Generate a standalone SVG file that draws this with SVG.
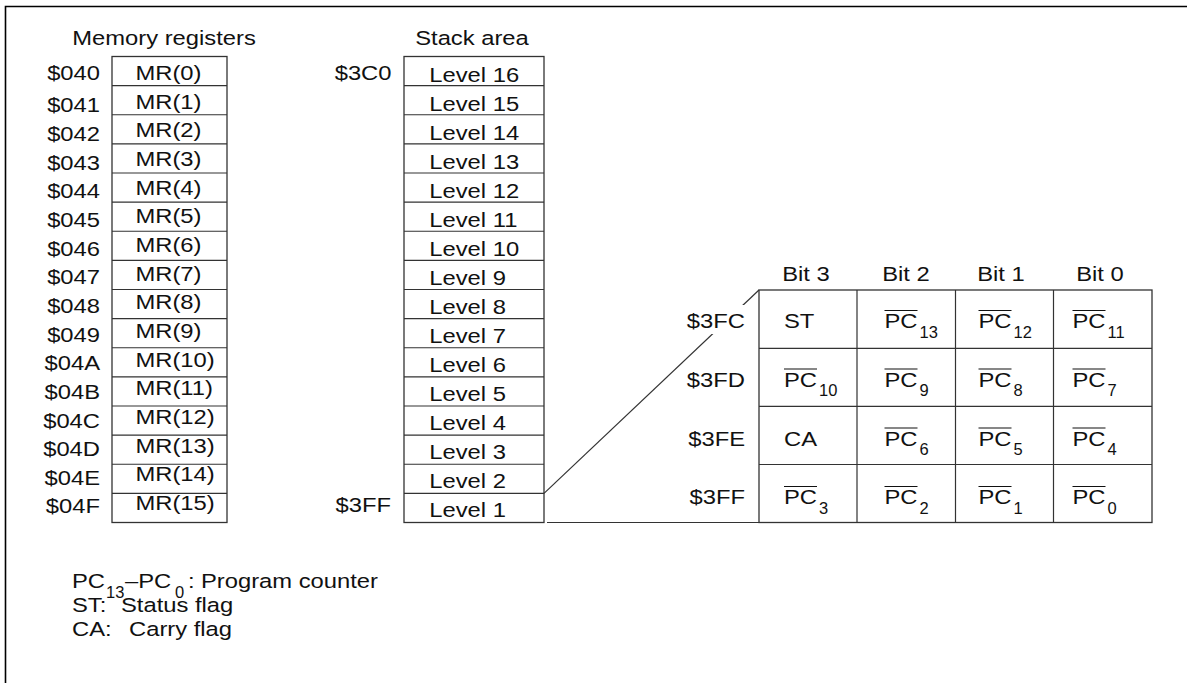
<svg xmlns="http://www.w3.org/2000/svg" width="1187" height="683" viewBox="0 0 1187 683">
<style>
text{font-family:"Liberation Sans",Arial,sans-serif;font-size:20.5px;fill:#111}
.m{text-anchor:middle}.e{text-anchor:end}
.sub{font-size:16.5px}
.box{fill:#fff;stroke:#333;stroke-width:1.3}
.ln{stroke:#333;stroke-width:1.2;fill:none}
.ol{stroke:#111;stroke-width:1.2}
.frame{fill:none;stroke:#000;stroke-width:1.6}
</style>
<rect width="1187" height="683" fill="#fff"/>
<path class="frame" d="M5.5 683V6.5H1187"/>

<g id="memory-registers">
<text class="m" transform="translate(164 45) scale(1.16 1)">Memory registers</text>
<rect class="box" x="112" y="56.5" width="115" height="466"/>
<path class="ln" d="M112 85.6H227M112 114.75H227M112 143.9H227M112 173H227M112 202.1H227M112 231.25H227M112 260.4H227M112 289.5H227M112 318.6H227M112 347.75H227M112 376.9H227M112 406H227M112 435.1H227M112 464.25H227M112 493.4H227"/>
<text class="e" transform="translate(100 80) scale(1.16 1)">$040</text>
<text class="e" transform="translate(100 112.2) scale(1.16 1)">$041</text>
<text class="e" transform="translate(100 140.8) scale(1.16 1)">$042</text>
<text class="e" transform="translate(100 169.5) scale(1.16 1)">$043</text>
<text class="e" transform="translate(100 198.2) scale(1.16 1)">$044</text>
<text class="e" transform="translate(100 226.8) scale(1.16 1)">$045</text>
<text class="e" transform="translate(100 255.5) scale(1.16 1)">$046</text>
<text class="e" transform="translate(100 284.2) scale(1.16 1)">$047</text>
<text class="e" transform="translate(100 312.9) scale(1.16 1)">$048</text>
<text class="e" transform="translate(100 341.5) scale(1.16 1)">$049</text>
<text class="e" transform="translate(100 370.2) scale(1.16 1)">$04A</text>
<text class="e" transform="translate(100 398.9) scale(1.16 1)">$04B</text>
<text class="e" transform="translate(100 427.5) scale(1.16 1)">$04C</text>
<text class="e" transform="translate(100 456.2) scale(1.16 1)">$04D</text>
<text class="e" transform="translate(100 484.9) scale(1.16 1)">$04E</text>
<text class="e" transform="translate(100 513) scale(1.16 1)">$04F</text>
<text transform="translate(135.5 80) scale(1.16 1)">MR(0)</text>
<text transform="translate(135.5 108.7) scale(1.16 1)">MR(1)</text>
<text transform="translate(135.5 137.3) scale(1.16 1)">MR(2)</text>
<text transform="translate(135.5 166) scale(1.16 1)">MR(3)</text>
<text transform="translate(135.5 194.7) scale(1.16 1)">MR(4)</text>
<text transform="translate(135.5 223.4) scale(1.16 1)">MR(5)</text>
<text transform="translate(135.5 252) scale(1.16 1)">MR(6)</text>
<text transform="translate(135.5 280.7) scale(1.16 1)">MR(7)</text>
<text transform="translate(135.5 309.4) scale(1.16 1)">MR(8)</text>
<text transform="translate(135.5 338) scale(1.16 1)">MR(9)</text>
<text transform="translate(135.5 366.7) scale(1.16 1)">MR(10)</text>
<text transform="translate(135.5 395.4) scale(1.16 1)">MR(11)</text>
<text transform="translate(135.5 424) scale(1.16 1)">MR(12)</text>
<text transform="translate(135.5 452.7) scale(1.16 1)">MR(13)</text>
<text transform="translate(135.5 481.4) scale(1.16 1)">MR(14)</text>
<text transform="translate(135.5 510) scale(1.16 1)">MR(15)</text>
</g>

<g id="stack-area">
<text class="m" transform="translate(472 45) scale(1.16 1)">Stack area</text>
<rect class="box" x="404" y="56.5" width="140" height="466"/>
<path class="ln" d="M404 85.6H544M404 114.75H544M404 143.9H544M404 173H544M404 202.1H544M404 231.25H544M404 260.4H544M404 289.5H544M404 318.6H544M404 347.75H544M404 376.9H544M404 406H544M404 435.1H544M404 464.25H544M404 493.4H544"/>
<text class="e" transform="translate(391.5 79.5) scale(1.16 1)">$3C0</text>
<text class="e" transform="translate(391 512) scale(1.16 1)">$3FF</text>
<text transform="translate(429.3 81.7) scale(1.16 1)">Level 16</text>
<text transform="translate(429.3 110.7) scale(1.16 1)">Level 15</text>
<text transform="translate(429.3 139.7) scale(1.16 1)">Level 14</text>
<text transform="translate(429.3 168.7) scale(1.16 1)">Level 13</text>
<text transform="translate(429.3 197.7) scale(1.16 1)">Level 12</text>
<text transform="translate(429.3 226.7) scale(1.16 1)">Level 11</text>
<text transform="translate(429.3 255.7) scale(1.16 1)">Level 10</text>
<text transform="translate(429.3 284.7) scale(1.16 1)">Level 9</text>
<text transform="translate(429.3 313.7) scale(1.16 1)">Level 8</text>
<text transform="translate(429.3 342.7) scale(1.16 1)">Level 7</text>
<text transform="translate(429.3 371.7) scale(1.16 1)">Level 6</text>
<text transform="translate(429.3 400.7) scale(1.16 1)">Level 5</text>
<text transform="translate(429.3 429.7) scale(1.16 1)">Level 4</text>
<text transform="translate(429.3 458.7) scale(1.16 1)">Level 3</text>
<text transform="translate(429.3 487.7) scale(1.16 1)">Level 2</text>
<text transform="translate(429.3 516.7) scale(1.16 1)">Level 1</text>
</g>

<g id="connectors">
<line class="ln" x1="544" y1="493.4" x2="759" y2="290"/>
<line class="ln" x1="547" y1="522.5" x2="759" y2="522.5"/>
</g>

<g id="level1-detail">
<rect x="688" y="305" width="60" height="29" fill="#fff"/>
<rect class="box" x="759" y="290" width="393" height="232.5"/>
<path class="ln" d="M857 290V522.5M955.5 290V522.5M1053.5 290V522.5M759 348.3H1152M759 406.4H1152M759 464.5H1152"/>
<text class="m" transform="translate(806 281) scale(1.16 1)">Bit 3</text>
<text class="m" transform="translate(906 281) scale(1.16 1)">Bit 2</text>
<text class="m" transform="translate(1001 281) scale(1.16 1)">Bit 1</text>
<text class="m" transform="translate(1100 281) scale(1.16 1)">Bit 0</text>
<text class="e" transform="translate(745 328) scale(1.16 1)">$3FC</text>
<text class="e" transform="translate(745 386.5) scale(1.16 1)">$3FD</text>
<text class="e" transform="translate(745 445.5) scale(1.16 1)">$3FE</text>
<text class="e" transform="translate(745 504) scale(1.16 1)">$3FF</text>

<text transform="translate(784 328) scale(1.16 1)">ST</text>
<text transform="translate(884.5 328) scale(1.16 1)">PC</text><text class="sub" x="919.5" y="337.5">13</text>
<text transform="translate(978.5 328) scale(1.16 1)">PC</text><text class="sub" x="1013.5" y="337.5">12</text>
<text transform="translate(1072.5 328) scale(1.16 1)">PC</text><text class="sub" x="1107.5" y="337.5">11</text>

<text transform="translate(784 386.5) scale(1.16 1)">PC</text><text class="sub" x="819" y="396">10</text>
<text transform="translate(884.5 386.5) scale(1.16 1)">PC</text><text class="sub" x="919.5" y="396">9</text>
<text transform="translate(978.5 386.5) scale(1.16 1)">PC</text><text class="sub" x="1013.5" y="396">8</text>
<text transform="translate(1072.5 386.5) scale(1.16 1)">PC</text><text class="sub" x="1107.5" y="396">7</text>

<text transform="translate(784 445.5) scale(1.16 1)">CA</text>
<text transform="translate(884.5 445.5) scale(1.16 1)">PC</text><text class="sub" x="919.5" y="455">6</text>
<text transform="translate(978.5 445.5) scale(1.16 1)">PC</text><text class="sub" x="1013.5" y="455">5</text>
<text transform="translate(1072.5 445.5) scale(1.16 1)">PC</text><text class="sub" x="1107.5" y="455">4</text>

<text transform="translate(784 504) scale(1.16 1)">PC</text><text class="sub" x="819" y="513.5">3</text>
<text transform="translate(884.5 504) scale(1.16 1)">PC</text><text class="sub" x="919.5" y="513.5">2</text>
<text transform="translate(978.5 504) scale(1.16 1)">PC</text><text class="sub" x="1013.5" y="513.5">1</text>
<text transform="translate(1072.5 504) scale(1.16 1)">PC</text><text class="sub" x="1107.5" y="513.5">0</text>

<path class="ol" d="M884.5 310.5h33M978.5 310.5h33M1072.5 310.5h33M784 369h33M884.5 369h33M978.5 369h33M1072.5 369h33M884.5 428h33M978.5 428h33M1072.5 428h33M784 486.5h33M884.5 486.5h33M978.5 486.5h33M1072.5 486.5h33"/>
</g>

<g id="legend">
<text transform="translate(72 588) scale(1.16 1)">PC</text>
<text class="sub" x="106" y="598">13</text>
<text transform="translate(125 588) scale(1.16 1)">–PC</text>
<text class="sub" x="175" y="598">0</text>
<text transform="translate(188 588) scale(1.16 1)">:</text>
<text transform="translate(201 588) scale(1.16 1)">Program counter</text>
<text transform="translate(72 612) scale(1.16 1)">ST:</text>
<text transform="translate(121 612) scale(1.16 1)">Status flag</text>
<text transform="translate(72 636) scale(1.16 1)">CA:</text>
<text transform="translate(129 636) scale(1.16 1)">Carry flag</text>
</g>
</svg>
